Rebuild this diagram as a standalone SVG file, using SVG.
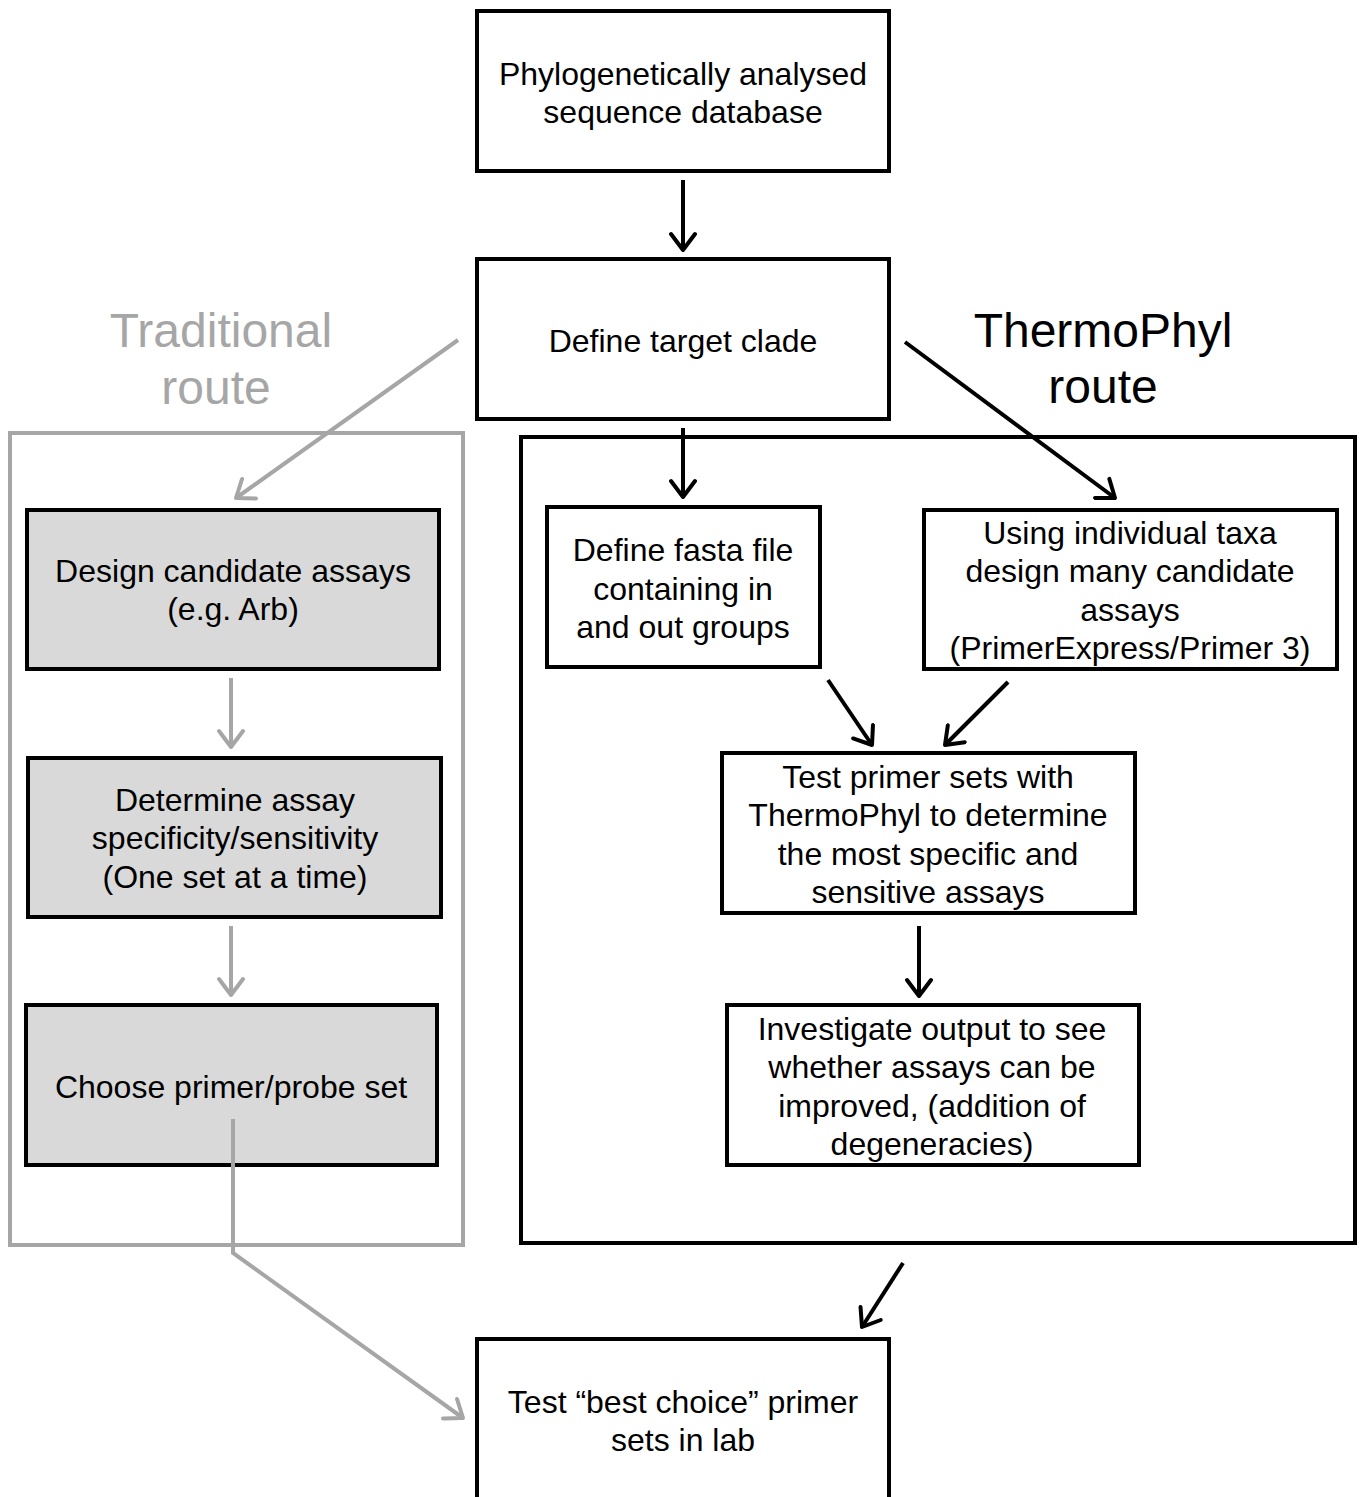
<svg xmlns="http://www.w3.org/2000/svg" width="1364" height="1497" viewBox="0 0 1364 1497">
<style>
.box{fill:#fff;stroke:#000;stroke-width:4}
.gbox{fill:#d9d9d9;stroke:#000;stroke-width:4}
.t{font-family:"Liberation Sans",Arial,sans-serif;font-size:32px;fill:#000;text-anchor:middle}
.big{font-family:"Liberation Sans",Arial,sans-serif;font-size:48px;text-anchor:middle}
.k{stroke:#000;stroke-width:4;fill:none}
.g{stroke:#a6a6a6;stroke-width:4;fill:none}
</style>
<defs>
<marker id="ak" viewBox="0 0 28 28" refX="24" refY="14" markerWidth="28" markerHeight="28" markerUnits="userSpaceOnUse" orient="auto">
<path d="M8,2 L24,14 L8,26" fill="none" stroke="#000" stroke-width="4" stroke-linecap="round" stroke-linejoin="round"/>
</marker>
<marker id="ag" viewBox="0 0 28 28" refX="24" refY="14" markerWidth="28" markerHeight="28" markerUnits="userSpaceOnUse" orient="auto">
<path d="M8,2 L24,14 L8,26" fill="none" stroke="#a6a6a6" stroke-width="4" stroke-linecap="round" stroke-linejoin="round"/>
</marker>
</defs>
<rect x="10" y="433" width="453" height="812" fill="none" stroke="#a6a6a6" stroke-width="4"/>
<rect x="521" y="437" width="834" height="806" fill="none" stroke="#000" stroke-width="4"/>
<text class="big" x="221" y="347" fill="#a6a6a6">Traditional</text>
<text class="big" x="216" y="404" fill="#a6a6a6">route</text>
<text class="big" x="1103" y="347" fill="#000">ThermoPhyl</text>
<text class="big" x="1103" y="403" fill="#000">route</text>
<g id="n1"><rect class="box" x="477" y="11" width="412" height="160"/>
<text class="t" x="683" y="85">Phylogenetically analysed</text><text class="t" x="683" y="123">sequence database</text></g>
<g id="n2"><rect class="box" x="477" y="259" width="412" height="160"/>
<text class="t" x="683" y="352">Define target clade</text></g>
<g id="n3"><rect class="gbox" x="27" y="510" width="412" height="159"/>
<text class="t" x="233" y="582">Design candidate assays</text><text class="t" x="233" y="620">(e.g. Arb)</text></g>
<g id="n4"><rect class="gbox" x="28" y="758" width="413" height="159"/>
<text class="t" x="235" y="811">Determine assay</text><text class="t" x="235" y="849">specificity/sensitivity</text><text class="t" x="235" y="888">(One set at a time)</text></g>
<g id="n5"><rect class="gbox" x="26" y="1005" width="411" height="160"/>
<text class="t" x="231" y="1098">Choose primer/probe set</text></g>
<g id="n6"><rect class="box" x="547" y="507" width="273" height="160"/>
<text class="t" x="683" y="561">Define fasta file</text><text class="t" x="683" y="600">containing in</text><text class="t" x="683" y="638">and out groups</text></g>
<g id="n7"><rect class="box" x="924" y="510" width="413" height="159"/>
<text class="t" x="1130" y="544">Using individual taxa</text><text class="t" x="1130" y="582">design many candidate</text><text class="t" x="1130" y="621">assays</text><text class="t" x="1130" y="659">(PrimerExpress/Primer 3)</text></g>
<g id="n8"><rect class="box" x="722" y="753" width="413" height="160"/>
<text class="t" x="928" y="788">Test primer sets with</text><text class="t" x="928" y="826">ThermoPhyl to determine</text><text class="t" x="928" y="865">the most specific and</text><text class="t" x="928" y="903">sensitive assays</text></g>
<g id="n9"><rect class="box" x="727" y="1005" width="412" height="160"/>
<text class="t" x="932" y="1040">Investigate output to see</text><text class="t" x="932" y="1078">whether assays can be</text><text class="t" x="932" y="1117">improved, (addition of</text><text class="t" x="932" y="1155">degeneracies)</text></g>
<g id="n10"><rect class="box" x="477" y="1339" width="412" height="170"/>
<text class="t" x="683" y="1413">Test “best choice” primer</text><text class="t" x="683" y="1451">sets in lab</text></g>
<g id="connectors">
<line class="k" x1="683" y1="180" x2="683" y2="250" marker-end="url(#ak)"/>
<line class="g" x1="458" y1="340" x2="236" y2="498" marker-end="url(#ag)"/>
<line class="k" x1="683" y1="428" x2="683" y2="497" marker-end="url(#ak)"/>
<line class="k" x1="905" y1="342" x2="1115" y2="498" marker-end="url(#ak)"/>
<line class="g" x1="231" y1="678" x2="231" y2="747" marker-end="url(#ag)"/>
<line class="g" x1="231" y1="926" x2="231" y2="995" marker-end="url(#ag)"/>
<line class="k" x1="828" y1="680" x2="872" y2="745" marker-end="url(#ak)"/>
<line class="k" x1="1008" y1="682" x2="945" y2="745" marker-end="url(#ak)"/>
<line class="k" x1="919" y1="926" x2="919" y2="996" marker-end="url(#ak)"/>
<polyline class="g" points="233,1119 233,1253 463,1418" marker-end="url(#ag)"/>
<line class="k" x1="903" y1="1263" x2="862" y2="1327" marker-end="url(#ak)"/>
</g>
</svg>
